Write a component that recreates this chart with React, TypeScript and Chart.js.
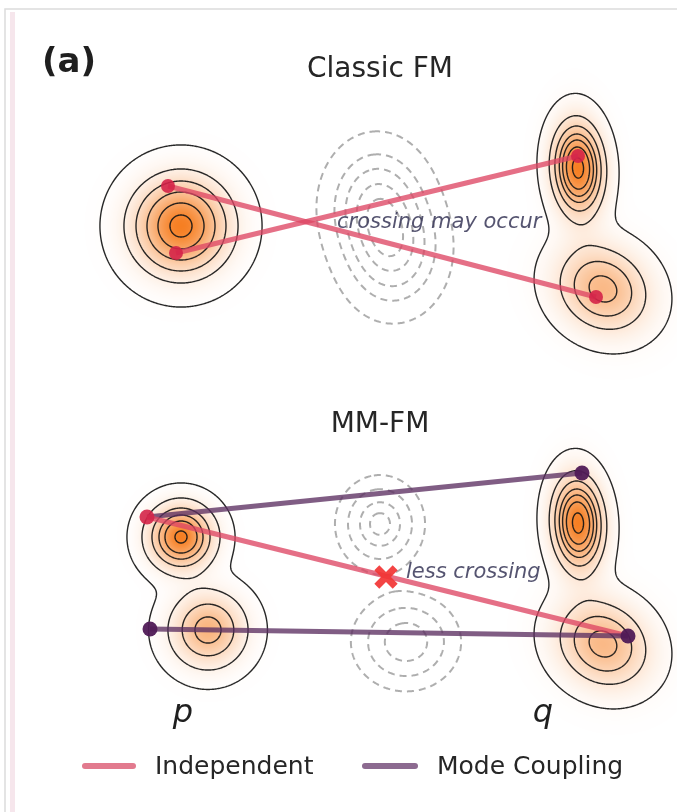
import React, { useEffect, useRef } from "react";
import { Chart, registerables } from "chart.js";

Chart.register(...registerables);

const W = 677;
const H = 812;

// Gaussian modes: [centerX, centerY, sigmaX, sigmaY, peak, rotation]
const pClassicModes = [[181, 226, 30, 30, 1, 0]];
const qClassicModes = [
  [578, 168, 17, 31, 1, -0.05],
  [603, 289, 33, 28, 0.603, 0.6],
];
const pCoupledModes = [
  [181, 537, 20, 20, 1, 0],
  [208, 630, 23.5, 23.5, 0.637, 0],
];
const qCoupledModes = [
  [578, 523, 17, 31, 1, -0.05],
  [603, 644, 33, 28, 0.603, 0.6],
];
const midClassicModes = [
  [377, 205, 26, 32, 1, 0],
  [393, 250, 26, 32, 1, 0],
];
const midCoupledModes = [
  [380, 524, 23, 25, 1, 0],
  [406, 642, 29, 26, 0.894, 0],
];

// contour levels as fractions of each density's maximum
const pClassicLevels = [0.026, 0.164, 0.325, 0.526, 0.745, 0.935];
const qLevels = [0.055, 0.24, 0.399, 0.548, 0.665, 0.795, 0.949];
const pCoupledLevels = [0.026, 0.149, 0.349, 0.546, 0.726, 0.956];
const midClassicLevels = [0.048, 0.198, 0.377, 0.61, 0.82];
const midCoupledLevels = [0.147, 0.38, 0.685, 0.91];

// couplings (start in p, end in q)
const classicPairA = [[168, 186], [596, 297]];
const classicPairB = [[176, 253], [578, 156]];
const coupledModePairA = [[147, 517], [582, 473]];
const coupledModePairB = [[150, 629], [628, 636]];
const coupledIndependent = [[147, 517], [628, 636]];
const crossingMark = [[386, 577]];

// texts
const panelLabel = "(a)";
const panelTitles = ["Classic FM", "MM-FM"];
const annotations = ["crossing may occur", "less crossing"];
const distLabels = ["p", "q"];
const legendLabels = ["Independent", "Mode Coupling"];

const PINK = "rgba(222, 70, 100, 0.78)";
const PINK_DOT = "rgba(212, 36, 72, 0.9)";
const PURPLE = "rgba(92, 48, 98, 0.78)";
const PURPLE_DOT = "rgba(80, 26, 86, 0.95)";
const FONT = '"DejaVu Sans", sans-serif';

type Mode = number[];

function densityAt(modes: Mode[], x: number, y: number): number {
  let s = 0;
  for (const [cx, cy, sx, sy, w, r] of modes) {
    const dx = x - cx;
    const dy = y - cy;
    const c = Math.cos(r);
    const sn = Math.sin(r);
    const u = c * dx + sn * dy;
    const v = -sn * dx + c * dy;
    s += w * Math.exp(-0.5 * ((u * u) / (sx * sx) + (v * v) / (sy * sy)));
  }
  return s;
}

interface Field {
  x0: number;
  y0: number;
  w: number;
  h: number;
  f: Float32Array;
  max: number;
}

function buildField(chart: any, modes: Mode[]): Field {
  const xs = chart.scales.x;
  const ys = chart.scales.y;
  const area = chart.chartArea;
  let minX = Infinity, maxX = -Infinity, minY = Infinity, maxY = -Infinity;
  for (const [cx, cy, sx, sy] of modes) {
    const m = 4.2 * Math.max(sx, sy);
    const pxa = xs.getPixelForValue(cx - m);
    const pxb = xs.getPixelForValue(cx + m);
    const pya = ys.getPixelForValue(cy - m);
    const pyb = ys.getPixelForValue(cy + m);
    minX = Math.min(minX, pxa, pxb);
    maxX = Math.max(maxX, pxa, pxb);
    minY = Math.min(minY, pya, pyb);
    maxY = Math.max(maxY, pya, pyb);
  }
  const x0 = Math.max(Math.floor(area.left), Math.floor(minX));
  const x1 = Math.min(Math.ceil(area.right) - 1, Math.ceil(maxX));
  const y0 = Math.max(Math.floor(area.top), Math.floor(minY));
  const y1 = Math.min(Math.ceil(area.bottom) - 1, Math.ceil(maxY));
  const w = x1 - x0 + 1;
  const h = y1 - y0 + 1;
  const f = new Float32Array(w * h);
  let max = 0;
  for (let j = 0; j < h; j++) {
    const vy = ys.getValueForPixel(y0 + j + 0.5);
    for (let i = 0; i < w; i++) {
      const vx = xs.getValueForPixel(x0 + i + 0.5);
      const d = densityAt(modes, vx, vy);
      f[j * w + i] = d;
      if (d > max) max = d;
    }
  }
  return { x0, y0, w, h, f, max };
}

function contourPaths(fd: Field, lv: number): number[][][] {
  const { w, h, f } = fd;
  const nH = w * h;
  const adj = new Map<number, number[]>();
  const link = (a: number, b: number) => {
    let la = adj.get(a);
    if (!la) { la = []; adj.set(a, la); }
    la.push(b);
    let lb = adj.get(b);
    if (!lb) { lb = []; adj.set(b, lb); }
    lb.push(a);
  };
  const edgePoint = (id: number): number[] => {
    if (id < nH) {
      const j = Math.floor(id / w);
      const i = id - j * w;
      const a = f[j * w + i];
      const b = f[j * w + i + 1];
      const t = (lv - a) / (b - a);
      return [fd.x0 + i + 0.5 + t, fd.y0 + j + 0.5];
    }
    const k = id - nH;
    const j = Math.floor(k / w);
    const i = k - j * w;
    const a = f[j * w + i];
    const b = f[(j + 1) * w + i];
    const t = (lv - a) / (b - a);
    return [fd.x0 + i + 0.5, fd.y0 + j + 0.5 + t];
  };
  for (let j = 0; j < h - 1; j++) {
    for (let i = 0; i < w - 1; i++) {
      const tl = f[j * w + i];
      const tr = f[j * w + i + 1];
      const br = f[(j + 1) * w + i + 1];
      const bl = f[(j + 1) * w + i];
      const code = (tl > lv ? 8 : 0) | (tr > lv ? 4 : 0) | (br > lv ? 2 : 0) | (bl > lv ? 1 : 0);
      if (code === 0 || code === 15) continue;
      const T = j * w + i;
      const B = (j + 1) * w + i;
      const L = nH + j * w + i;
      const R = nH + j * w + i + 1;
      switch (code) {
        case 1: case 14: link(L, B); break;
        case 2: case 13: link(B, R); break;
        case 3: case 12: link(L, R); break;
        case 4: case 11: link(T, R); break;
        case 6: case 9: link(T, B); break;
        case 7: case 8: link(L, T); break;
        case 5: {
          const c = (tl + tr + br + bl) / 4;
          if (c > lv) { link(L, T); link(B, R); } else { link(T, R); link(L, B); }
          break;
        }
        case 10: {
          const c = (tl + tr + br + bl) / 4;
          if (c > lv) { link(T, R); link(L, B); } else { link(L, T); link(B, R); }
          break;
        }
      }
    }
  }
  const visited = new Set<number>();
  const paths: number[][][] = [];
  const walk = (start: number) => {
    const pts = [edgePoint(start)];
    visited.add(start);
    let cur = start;
    for (;;) {
      const nb = adj.get(cur)!;
      let nxt = -1;
      for (const n of nb) if (!visited.has(n)) { nxt = n; break; }
      if (nxt < 0) {
        if (cur !== start && nb.includes(start)) pts.push(pts[0]);
        break;
      }
      visited.add(nxt);
      pts.push(edgePoint(nxt));
      cur = nxt;
    }
    paths.push(pts);
  };
  adj.forEach((nb, e) => { if (nb.length === 1 && !visited.has(e)) walk(e); });
  adj.forEach((_nb, e) => { if (!visited.has(e)) walk(e); });
  return paths;
}

function strokeContours(ctx: CanvasRenderingContext2D, fd: Field, levels: number[], dashed: boolean) {
  ctx.save();
  if (dashed) {
    ctx.strokeStyle = "rgba(160,160,160,0.85)";
    ctx.lineWidth = 2;
    ctx.setLineDash([7, 5]);
  } else {
    ctx.strokeStyle = "rgba(22,22,22,0.92)";
    ctx.lineWidth = 1.4;
    ctx.setLineDash([]);
  }
  ctx.lineJoin = "round";
  for (const fr of levels) {
    const paths = contourPaths(fd, fr * fd.max);
    for (const p of paths) {
      if (p.length < 2) continue;
      ctx.beginPath();
      ctx.moveTo(p[0][0], p[0][1]);
      for (let k = 1; k < p.length; k++) ctx.lineTo(p[k][0], p[k][1]);
      ctx.stroke();
    }
  }
  ctx.restore();
}

const densityPlugin = {
  id: "densities",
  beforeDraw(chart: any) {
    const ctx: CanvasRenderingContext2D = chart.ctx;
    ctx.save();
    ctx.fillStyle = "#ffffff";
    ctx.fillRect(0, 0, chart.width, chart.height);
    // page frame
    ctx.fillStyle = "#f6e6ec";
    ctx.fillRect(10, 12, 5, chart.height - 12);
    ctx.strokeStyle = "#dcdcdc";
    ctx.lineWidth = 1.5;
    ctx.beginPath();
    ctx.moveTo(5, chart.height);
    ctx.lineTo(5, 9);
    ctx.lineTo(chart.width, 9);
    ctx.stroke();
    ctx.restore();
  },
  beforeDatasetsDraw(chart: any) {
    const ctx: CanvasRenderingContext2D = chart.ctx;
    const filled = [pClassicModes, qClassicModes, pCoupledModes, qCoupledModes].map((m) => buildField(chart, m));
    const ghosts = [midClassicModes, midCoupledModes].map((m) => buildField(chart, m));
    // shaded densities
    const off = document.createElement("canvas");
    off.width = chart.width;
    off.height = chart.height;
    const octx = off.getContext("2d")!;
    const img = octx.createImageData(chart.width, chart.height);
    const data = img.data;
    for (const fd of filled) {
      for (let j = 0; j < fd.h; j++) {
        for (let i = 0; i < fd.w; i++) {
          const t = Math.min(1, fd.f[j * fd.w + i]);
          const px = fd.x0 + i;
          const py = fd.y0 + j;
          if (px < 0 || py < 0 || px >= chart.width || py >= chart.height) continue;
          const idx = (py * chart.width + px) * 4;
          const a = Math.round(Math.pow(t, 1.2) * 0.98 * 255);
          if (a > data[idx + 3]) {
            data[idx] = 246;
            data[idx + 1] = 124;
            data[idx + 2] = 30;
            data[idx + 3] = a;
          }
        }
      }
    }
    octx.putImageData(img, 0, 0);
    ctx.drawImage(off, 0, 0);
    strokeContours(ctx, filled[0], pClassicLevels, false);
    strokeContours(ctx, filled[1], qLevels, false);
    strokeContours(ctx, filled[2], pCoupledLevels, false);
    strokeContours(ctx, filled[3], qLevels, false);
    strokeContours(ctx, ghosts[0], midClassicLevels, true);
    strokeContours(ctx, ghosts[1], midCoupledLevels, true);
  },
  afterDatasetsDraw(chart: any) {
    const ctx: CanvasRenderingContext2D = chart.ctx;
    ctx.save();
    ctx.textBaseline = "alphabetic";
    // panel label
    ctx.fillStyle = "#1f1f1f";
    ctx.font = `bold 34px ${FONT}`;
    ctx.textAlign = "left";
    ctx.fillText(panelLabel, 42, 72);
    // titles
    ctx.font = `28px ${FONT}`;
    ctx.textAlign = "center";
    ctx.fillStyle = "#262626";
    ctx.fillText(panelTitles[0], 380, 77);
    ctx.fillText(panelTitles[1], 380, 432);
    // annotations
    ctx.font = `italic 21px ${FONT}`;
    ctx.textAlign = "left";
    ctx.fillStyle = "rgba(62,60,92,0.88)";
    ctx.fillText(annotations[0], 337, 228);
    ctx.fillText(annotations[1], 406, 578);
    // distribution labels
    ctx.font = `italic 32px ${FONT}`;
    ctx.textAlign = "center";
    ctx.fillStyle = "#1f1f1f";
    ctx.fillText(distLabels[0], 183, 722);
    ctx.fillText(distLabels[1], 543, 722);
    // legend
    ctx.lineCap = "round";
    ctx.lineWidth = 6;
    ctx.strokeStyle = "#e27a8e";
    ctx.beginPath();
    ctx.moveTo(85, 766);
    ctx.lineTo(133, 766);
    ctx.stroke();
    ctx.strokeStyle = "#8c6a90";
    ctx.beginPath();
    ctx.moveTo(365, 766);
    ctx.lineTo(415, 766);
    ctx.stroke();
    ctx.font = `25px ${FONT}`;
    ctx.textAlign = "left";
    ctx.textBaseline = "middle";
    ctx.fillStyle = "#262626";
    ctx.fillText(legendLabels[0], 155, 767);
    ctx.fillText(legendLabels[1], 437, 767);
    ctx.restore();
  },
};

const toPts = (arr: number[][]) => arr.map(([x, y]) => ({ x, y }));

export default function App() {
  const ref = useRef<HTMLCanvasElement>(null);
  useEffect(() => {
    const canvas = ref.current!;
    const chart = new Chart(canvas, {
      type: "scatter",
      data: {
        datasets: [
          {
            label: legendLabels[0],
            data: toPts(classicPairA),
            showLine: true,
            borderColor: PINK,
            borderWidth: 5,
            pointRadius: 7,
            pointBackgroundColor: PINK_DOT,
            pointBorderWidth: 0,
            order: 6,
          },
          {
            label: legendLabels[0],
            data: toPts(classicPairB),
            showLine: true,
            borderColor: PINK,
            borderWidth: 5,
            pointRadius: 7,
            pointBackgroundColor: PINK_DOT,
            pointBorderWidth: 0,
            order: 6,
          },
          {
            label: legendLabels[1],
            data: toPts(coupledModePairA),
            showLine: true,
            borderColor: PURPLE,
            borderWidth: 5,
            pointRadius: [0, 7.5],
            pointBackgroundColor: PURPLE_DOT,
            pointBorderWidth: 0,
            order: 5,
          },
          {
            label: legendLabels[0],
            data: toPts(coupledIndependent),
            showLine: true,
            borderColor: PINK,
            borderWidth: 5,
            pointRadius: [7.5, 0],
            pointBackgroundColor: PINK_DOT,
            pointBorderWidth: 0,
            order: 4,
          },
          {
            label: legendLabels[1],
            data: toPts(coupledModePairB),
            showLine: true,
            borderColor: PURPLE,
            borderWidth: 5,
            pointRadius: 7.5,
            pointBackgroundColor: PURPLE_DOT,
            pointBorderWidth: 0,
            order: 3,
          },
          {
            label: "crossing",
            data: toPts(crossingMark),
            showLine: false,
            pointStyle: "crossRot",
            pointRadius: 13,
            pointBorderWidth: 7,
            pointBorderColor: "rgba(242,52,52,0.92)",
            pointBackgroundColor: "rgba(242,52,52,0.92)",
            order: 1,
          },
        ] as any,
      },
      options: {
        responsive: false,
        animation: false,
        events: [],
        layout: { padding: 0, autoPadding: false },
        plugins: {
          legend: { display: false },
          tooltip: { enabled: false },
        },
        scales: {
          x: { type: "linear", min: 0, max: W, display: false },
          y: { type: "linear", min: 0, max: H, reverse: true, display: false },
        },
      },
      plugins: [densityPlugin],
    });
    return () => chart.destroy();
  }, []);
  return (
    <div style={{ position: "absolute", left: 0, top: 0, width: W, height: H }}>
      <canvas ref={ref} width={W} height={H} style={{ display: "block", width: W, height: H }} />
    </div>
  );
}
